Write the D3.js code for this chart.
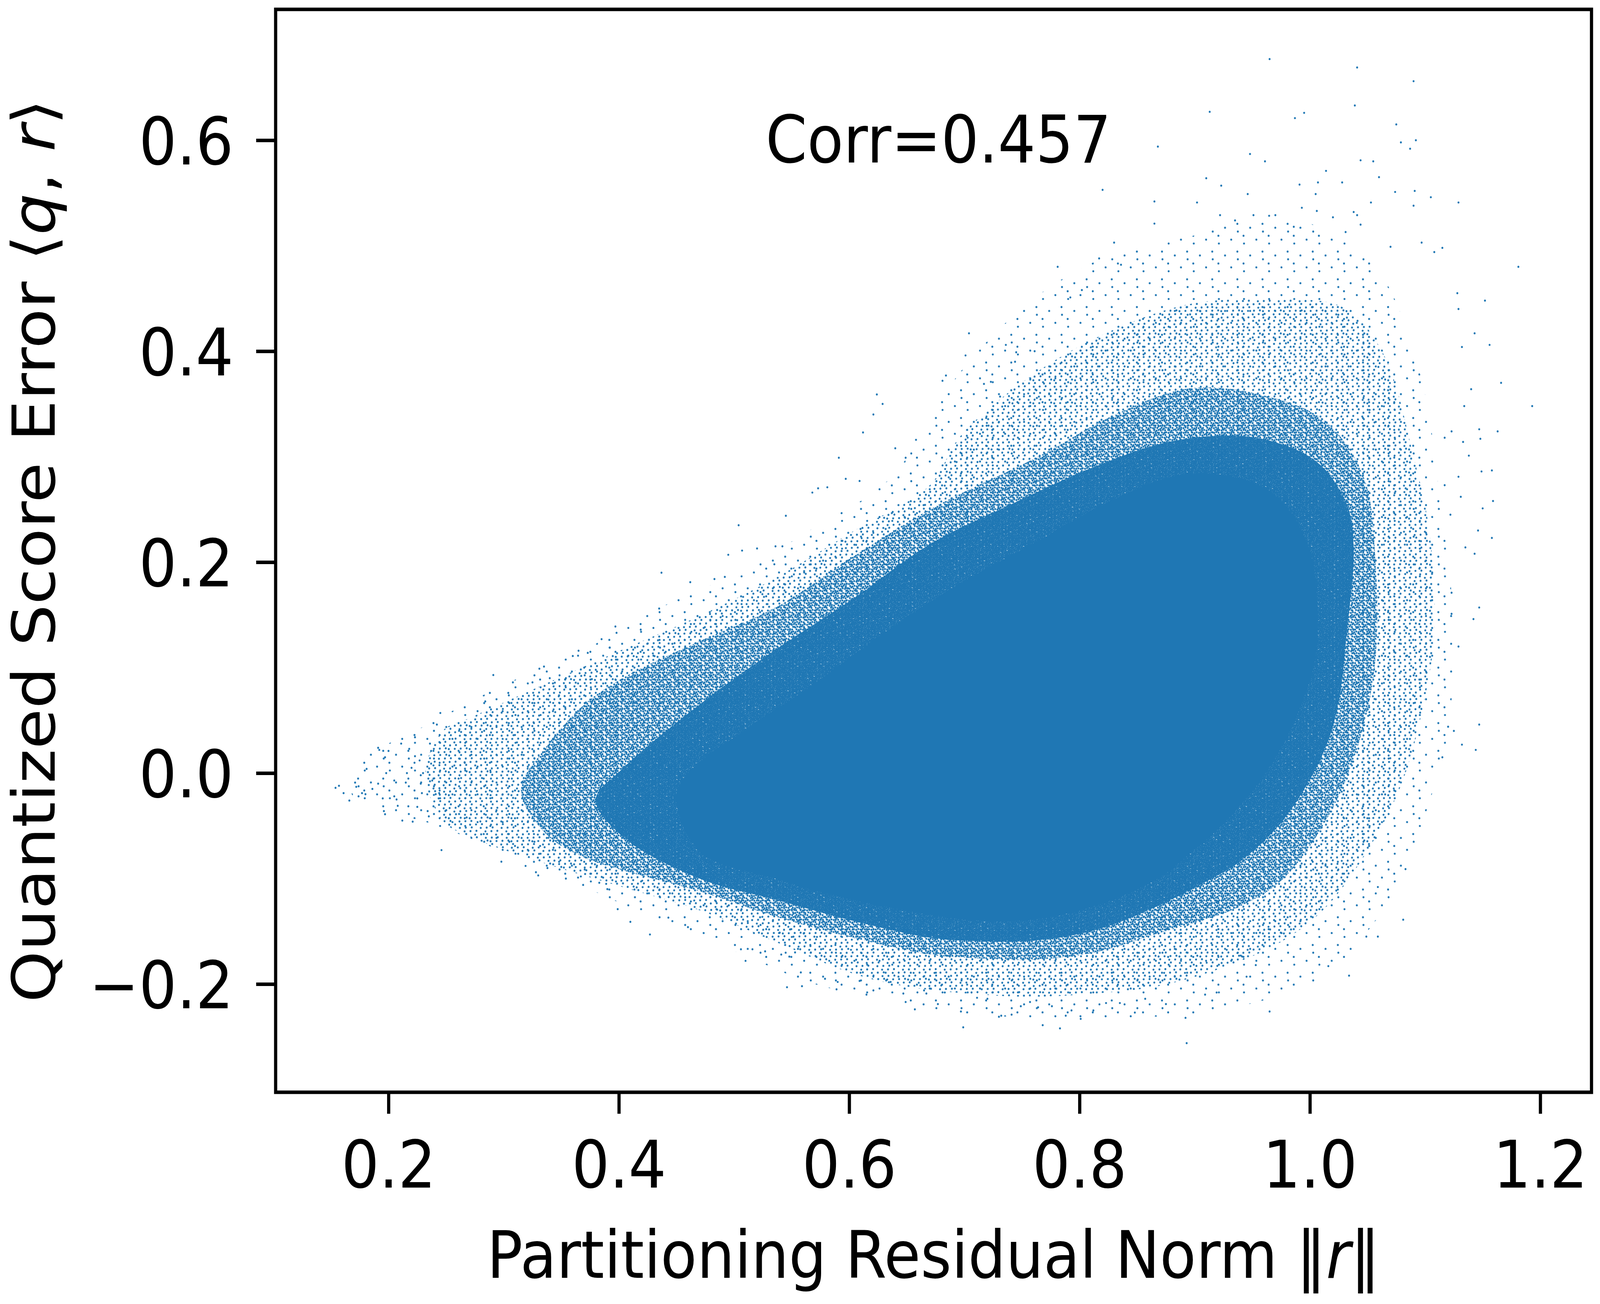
<!DOCTYPE html>
<html>
<head>
<meta charset="utf-8">
<script src="https://cdn.jsdelivr.net/npm/d3@7"></script>
<style>
html, body { margin: 0; padding: 0; background: #fff; overflow: hidden; }
#chart { display: block; width: 100vw; height: 100vh; }
</style>
</head>
<body>
<svg id="chart" viewBox="0 0 4522 3338" preserveAspectRatio="none"></svg>
<script>
// values (x = residual norm, y = score error)
const xTicks = [0.2, 0.4, 0.6, 0.8, 1.0, 1.2];
const yTicks = [-0.2, 0.0, 0.2, 0.4, 0.6];
const corr = 0.457;

// edges of the point cloud at falling density, outermost first
const faintEdge = [
  [0.170,0.004],[0.237,0.048],[0.303,0.085],[0.370,0.117],[0.436,0.157],[0.503,0.190],[0.570,0.233],
  [0.636,0.280],[0.697,0.381],[0.764,0.453],[0.831,0.493],[0.897,0.509],[0.964,0.530],[1.030,0.505],
  [1.064,0.469],[1.097,0.373],[1.113,0.260],[1.124,0.150],[1.120,0.040],[1.100,-0.040],[1.080,-0.100],
  [1.050,-0.150],[1.015,-0.190],[0.970,-0.212],[0.900,-0.228],[0.800,-0.232],[0.700,-0.228],[0.636,-0.215],
  [0.570,-0.200],[0.503,-0.170],[0.436,-0.140],[0.370,-0.108],[0.303,-0.076],[0.237,-0.048],[0.170,-0.024]
];
const sparseEdge = [
  [0.232,0.000],[0.247,0.040],[0.270,0.052],[0.337,0.085],[0.403,0.117],[0.470,0.149],[0.536,0.185],
  [0.603,0.229],[0.670,0.273],[0.697,0.320],[0.764,0.381],[0.831,0.421],[0.897,0.445],[0.964,0.449],
  [1.030,0.441],[1.064,0.397],[1.090,0.300],[1.104,0.227],[1.108,0.133],[1.098,0.062],[1.080,-0.009],
  [1.052,-0.070],[1.014,-0.127],[0.975,-0.160],[0.923,-0.185],[0.868,-0.202],[0.813,-0.209],[0.758,-0.212],
  [0.703,-0.209],[0.648,-0.202],[0.603,-0.190],[0.536,-0.160],[0.470,-0.130],[0.403,-0.108],[0.337,-0.086],
  [0.270,-0.060],[0.247,-0.045]
];
const mediumEdge = [
  [0.315,-0.016],[0.337,0.025],[0.370,0.065],[0.403,0.090],[0.470,0.125],[0.536,0.157],[0.603,0.205],
  [0.670,0.250],[0.764,0.300],[0.831,0.340],[0.897,0.365],[0.964,0.357],[1.014,0.333],[1.047,0.280],
  [1.057,0.200],[1.057,0.109],[1.045,0.038],[1.020,-0.033],[0.977,-0.100],[0.938,-0.127],[0.900,-0.142],
  [0.868,-0.152],[0.813,-0.170],[0.758,-0.177],[0.703,-0.175],[0.670,-0.172],[0.603,-0.156],[0.536,-0.136],
  [0.470,-0.112],[0.403,-0.092],[0.370,-0.080],[0.337,-0.058]
];
const denseEdge = [
  [0.380,-0.025],[0.403,0.004],[0.470,0.065],[0.536,0.117],[0.603,0.165],[0.670,0.217],[0.741,0.255],
  [0.812,0.290],[0.882,0.315],[0.953,0.318],[1.006,0.295],[1.032,0.255],[1.038,0.215],[1.032,0.133],
  [1.024,0.062],[1.010,0.015],[0.975,-0.047],[0.938,-0.085],[0.923,-0.095],[0.868,-0.126],[0.813,-0.149],
  [0.758,-0.159],[0.703,-0.159],[0.670,-0.156],[0.603,-0.140],[0.536,-0.120],[0.470,-0.100],[0.403,-0.060]
];
const coreEdge = [
  [0.450,-0.020],[0.470,0.010],[0.503,0.036],[0.570,0.085],[0.636,0.137],[0.697,0.180],[0.764,0.220],
  [0.831,0.260],[0.897,0.284],[0.964,0.268],[0.997,0.220],[1.007,0.150],[1.003,0.100],[0.990,0.060],
  [0.978,0.030],[0.955,-0.010],[0.923,-0.050],[0.895,-0.077],[0.868,-0.100],[0.813,-0.126],[0.758,-0.139],
  [0.703,-0.139],[0.603,-0.120],[0.536,-0.100],[0.470,-0.074]
];

// single points standing clear of the cloud
const strayLeft = [
  [0.154,-0.014],[0.157,-0.012],[0.161,-0.019],[0.166,-0.026],[0.171,-0.009],[0.172,-0.013],[0.174,-0.022],
  [0.177,-0.019],[0.180,-0.020],[0.181,0.004],[0.186,-0.015],[0.191,0.024],[0.192,0.022],[0.191,-0.010],
  [0.195,-0.024],[0.196,-0.036],[0.197,-0.039],[0.197,0.015],[0.198,0.000],[0.200,0.021],[0.205,-0.007],
  [0.205,-0.022],[0.207,-0.025],[0.208,-0.031],[0.211,0.028],[0.212,-0.045],[0.215,-0.009],[0.216,0.000],
  [0.218,0.023],[0.220,0.005],[0.221,-0.046],[0.223,0.034],[0.223,0.016],[0.225,-0.024],[0.225,-0.032],
  [0.227,0.012],[0.228,-0.010],[0.228,-0.002],[0.229,-0.019],[0.230,0.000],[0.234,-0.036],[0.235,-0.041],
  [0.236,0.028],[0.237,0.021],[0.237,0.009],[0.238,-0.007],[0.241,-0.020],[0.242,0.046],[0.244,-0.019],
  [0.245,0.057],[0.246,-0.073],
  [0.284,0.068],[0.288,0.076],[0.291,0.093],[0.298,-0.084],[0.304,0.076],[0.308,0.086],[0.319,-0.088],
  [0.325,0.086],[0.328,-0.094],[0.330,-0.097],[0.331,0.099],[0.335,0.101],[0.338,-0.090],[0.340,0.090],
  [0.350,-0.089],[0.354,0.090],[0.354,-0.100],[0.360,0.111],[0.365,0.116],[0.367,-0.098],[0.369,-0.106],
  [0.373,0.114],[0.383,-0.104],[0.385,0.127],[0.389,-0.105],[0.390,-0.110],[0.392,0.119],[0.397,0.139],
  [0.398,0.133],[0.399,-0.129],[0.410,-0.141],[0.419,0.136],[0.427,-0.153],[0.435,0.156],[0.437,0.190],
  [0.443,-0.137],[0.460,-0.146],[0.462,0.181],[0.483,0.184],[0.492,0.186],[0.495,0.207],[0.504,0.235],
  [0.506,-0.167],[0.510,-0.178],[0.507,0.211],[0.520,0.213],[0.516,-0.167],[0.527,-0.169],[0.535,0.198],
  [0.536,0.215],[0.542,0.215],[0.545,0.244],[0.541,-0.172],[0.548,-0.174],[0.553,-0.170]
];
const strayTop = [
  [0.591,0.299],[0.597,0.279],[0.609,0.277],[0.573,0.270],[0.581,0.271],[0.568,0.266],[0.658,0.316],
  [0.965,0.677],[1.041,0.669],[1.090,0.656],[0.913,0.627],[1.039,0.633],[0.995,0.626],[0.987,0.621],
  [0.868,0.594],[0.948,0.587],[0.961,0.580],[1.075,0.615],[1.079,0.598],[1.092,0.600],[1.087,0.592],
  [1.044,0.581],[1.055,0.580],[1.014,0.571],[1.028,0.560],[1.060,0.565],[0.910,0.564],[0.923,0.557],
  [0.820,0.553],[0.991,0.558],[1.007,0.560],[1.005,0.549],[1.074,0.551],[1.091,0.552],[1.105,0.546],
  [1.129,0.541],[0.865,0.542],[0.902,0.541],[0.946,0.549],[0.993,0.536],[1.006,0.533],[1.038,0.532],
  [1.090,0.538],[1.053,0.541],[0.922,0.529],[0.935,0.524],[0.951,0.529],[0.970,0.529],[1.020,0.527],
  [1.041,0.529],[0.865,0.521],[1.044,0.520],[0.830,0.503],[0.781,0.480],[0.817,0.488],[0.836,0.482],
  [1.115,0.498],[1.108,0.494],[1.097,0.503],[1.070,0.499],[1.031,0.513],[0.986,0.518],[0.802,0.458],
  [0.792,0.451],[1.122,0.245],[1.117,0.273],[0.621,0.340],[0.612,0.323],[0.624,0.359],[0.629,0.350],
  [0.640,0.308],[0.649,0.299],[0.704,0.417],[0.684,0.377],[0.681,0.372],[0.701,0.396],[0.745,0.399],
  [0.761,0.400],[0.744,0.390],[0.723,0.371],[0.717,0.369],[0.731,0.357],[0.736,0.406]
];
const strayRight = [
  [1.181,0.480],[1.152,0.448],[1.128,0.455],[1.129,0.440],[1.143,0.417],[1.156,0.406],[1.132,0.404],
  [1.166,0.370],[1.193,0.348],[1.140,0.364],[1.134,0.348],[1.163,0.324],[1.147,0.326],[1.148,0.317],
  [1.133,0.314],[1.138,0.301],[1.123,0.324],[1.117,0.318],[1.158,0.287],[1.149,0.286],[1.129,0.281],
  [1.159,0.258],[1.150,0.251],[1.131,0.262],[1.146,0.230],[1.158,0.223],[1.143,0.208],[1.135,0.214],
  [1.147,0.157],[1.142,0.146],[1.129,0.120],[1.147,0.046],[1.144,0.022],[1.132,0.027],[1.125,0.040],
  [1.120,0.044],[1.115,0.015],[1.123,0.171],[1.123,0.151],[1.081,-0.139],[1.059,-0.155],[1.049,-0.155],
  [1.034,-0.192],[1.016,-0.183],[1.083,-0.091],[1.059,-0.108]
];
const strayBottom = [
  [0.546,-0.203],[0.558,-0.189],[0.559,-0.202],[0.579,-0.195],[0.589,-0.205],[0.590,-0.198],[0.609,-0.197],
  [0.615,-0.210],[0.621,-0.206],[0.636,-0.198],[0.647,-0.209],[0.649,-0.217],[0.657,-0.224],[0.665,-0.206],
  [0.667,-0.209],[0.677,-0.219],[0.683,-0.208],[0.697,-0.226],[0.699,-0.241],[0.711,-0.213],[0.720,-0.214],
  [0.730,-0.231],[0.732,-0.230],[0.741,-0.229],[0.749,-0.221],[0.757,-0.217],[0.764,-0.222],[0.768,-0.239],
  [0.776,-0.221],[0.783,-0.242],[0.788,-0.230],[0.793,-0.225],[0.801,-0.233],[0.812,-0.225],[0.823,-0.218],
  [0.835,-0.218],[0.848,-0.227],[0.857,-0.214],[0.875,-0.219],[0.892,-0.232],[0.893,-0.256],[0.909,-0.210],
  [0.919,-0.208],[0.945,-0.193],[0.965,-0.226],[0.953,-0.182],[0.940,-0.173]
];

const blue = "#1f77b4";
const font = "'DejaVu Sans', sans-serif";
const fs = 168;

const W = 4522, H = 3338;
const margin = {left: 779, top: 24, right: 24, bottom: 542};
const plotW = W - margin.left - margin.right;
const plotH = H - margin.top - margin.bottom;

const svg = d3.select("#chart");
svg.append("rect").attr("width", W).attr("height", H).attr("fill", "#fff");

const x = d3.scaleLinear().domain([0.102, 1.2445]).range([margin.left, margin.left + plotW]);
const y = d3.scaleLinear().domain([-0.3026, 0.7241]).range([margin.top + plotH, margin.top]);

// dot textures for the speckled fringe of the cloud (wrapped so tiles join seamlessly)
const defs = svg.append("defs");
function dotPattern(id, tile, n, r) {
  const p = defs.append("pattern").attr("id", id)
    .attr("patternUnits", "userSpaceOnUse")
    .attr("width", tile).attr("height", tile);
  const g = 1.32471795724474602596, a1 = 1 / g, a2 = 1 / (g * g);
  for (let i = 0; i < n; i++) {
    const cx = ((0.5 + a1 * i) % 1) * tile, cy = ((0.5 + a2 * i) % 1) * tile;
    for (const dx of [-tile, 0, tile]) {
      for (const dy of [-tile, 0, tile]) {
        const px = cx + dx, py = cy + dy;
        if (px < -r || px > tile + r || py < -r || py > tile + r) continue;
        p.append("circle").attr("cx", px).attr("cy", py).attr("r", r).attr("fill", blue);
      }
    }
  }
}
dotPattern("faint", 71, 6, 2.7);
dotPattern("sparse", 59, 22, 2.7);
dotPattern("medium", 43, 42, 2.7);
dotPattern("dense", 37, 80, 2.7);

const plot = svg.append("g");
const outline = d3.line().x(d => x(d[0])).y(d => y(d[1])).curve(d3.curveCatmullRomClosed.alpha(0.5));

plot.append("path").attr("d", outline(faintEdge)).attr("fill", "url(#faint)");
plot.append("path").attr("d", outline(sparseEdge)).attr("fill", "url(#sparse)");
plot.append("path").attr("d", outline(mediumEdge)).attr("fill", "url(#medium)");
plot.append("path").attr("d", outline(denseEdge)).attr("fill", "url(#dense)");
plot.append("path").attr("d", outline(coreEdge)).attr("fill", blue);

const stray = strayLeft.concat(strayTop, strayRight, strayBottom);
plot.selectAll("circle.stray").data(stray).enter()
  .append("circle").attr("class", "stray")
  .attr("cx", d => x(d[0])).attr("cy", d => y(d[1]))
  .attr("r", 2.7).attr("fill", blue);

// axes
const fmt = d3.format(".1f");
const gx = svg.append("g")
  .attr("transform", `translate(0,${margin.top + plotH})`)
  .call(d3.axisBottom(x).tickValues(xTicks).tickFormat(fmt).tickSize(55).tickSizeOuter(0).tickPadding(70));
const gy = svg.append("g")
  .attr("transform", `translate(${margin.left},0)`)
  .call(d3.axisLeft(y).tickValues(yTicks).tickFormat(fmt).tickSize(55).tickSizeOuter(0).tickPadding(64));

[gx, gy].forEach(g => {
  g.select(".domain").remove();
  g.attr("font-family", font).attr("font-size", fs);
  g.selectAll(".tick line").attr("stroke", "#000").attr("stroke-width", 9);
  g.selectAll(".tick text").attr("fill", "#000");
});
gy.selectAll(".tick text").attr("dy", "0.365em");

svg.append("rect")
  .attr("x", margin.left).attr("y", margin.top)
  .attr("width", plotW).attr("height", plotH)
  .attr("fill", "none").attr("stroke", "#000").attr("stroke-width", 9);

// axis labels
const xl = svg.append("text")
  .attr("x", margin.left + plotW / 2).attr("y", 3271)
  .attr("text-anchor", "middle")
  .attr("font-family", font).attr("font-size", fs);
xl.append("tspan").text("Partitioning Residual Norm \u2016");
xl.append("tspan").attr("font-style", "italic").text("r");
xl.append("tspan").text("\u2016");

const yl = svg.append("text")
  .attr("transform", `translate(155,${margin.top + plotH / 2}) rotate(-90)`)
  .attr("text-anchor", "middle")
  .attr("font-family", font).attr("font-size", fs);
yl.append("tspan").text("Quantized Score Error \u27E8");
yl.append("tspan").attr("font-style", "italic").text("q");
yl.append("tspan").text(", ");
yl.append("tspan").attr("font-style", "italic").text("r");
yl.append("tspan").text("\u27E9");

svg.append("text")
  .attr("x", x(0.6775)).attr("y", y(0.579))
  .attr("text-anchor", "middle")
  .attr("font-family", font).attr("font-size", fs)
  .text(`Corr=${corr}`);
</script>
</body>
</html>
